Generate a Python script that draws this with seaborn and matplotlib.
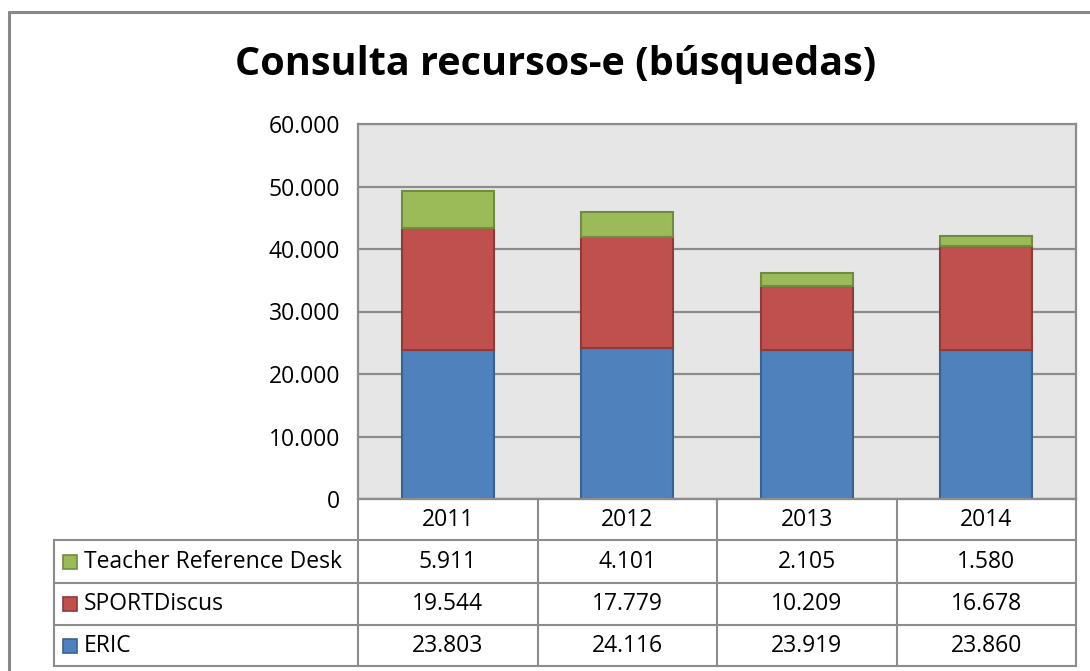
import matplotlib
matplotlib.use("Agg")
import matplotlib.pyplot as plt
import seaborn as sns
import pandas as pd
import numpy as np
from matplotlib.patches import Rectangle
from matplotlib.lines import Line2D
from matplotlib.ticker import FuncFormatter

years = ["2011", "2012", "2013", "2014"]
eric = [23803, 24116, 23919, 23860]
sport = [19544, 17779, 10209, 16678]
teacher = [5911, 4101, 2105, 1580]
series_names = ["Teacher Reference Desk", "SPORTDiscus", "ERIC"]
yticks = [0, 10000, 20000, 30000, 40000, 50000, 60000]

colors = {"ERIC": "#4F81BD", "SPORTDiscus": "#C0504D", "Teacher Reference Desk": "#9BBB59"}
edges = {"ERIC": "#3A6290", "SPORTDiscus": "#8E3A38", "Teacher Reference Desk": "#718C40"}

sns.set_theme(style="white")
plt.rcParams['font.family'] = ['Open Sans', 'DejaVu Sans']

W, H = 1090, 671
fig = plt.figure(figsize=(W / 100, H / 100), dpi=100)

def fx(px):
    return px / W

def fy(py):
    return 1 - py / H

L, R, T, B = 358, 1076, 124, 499
ax = fig.add_axes([fx(L), fy(B), fx(R) - fx(L), fy(T) - fy(B)])
ax.set_facecolor("#E6E6E6")

df = pd.DataFrame({"year": years, "ERIC": eric, "SPORTDiscus": sport,
                   "Teacher Reference Desk": teacher})
bottom1 = np.array(eric)
bottom2 = bottom1 + np.array(sport)
w = 0.51
sns.barplot(data=df, x="year", y="ERIC", order=years, color=colors["ERIC"],
            edgecolor=edges["ERIC"], linewidth=1.5, width=w, ax=ax, saturation=1)
sns.barplot(data=df, x="year", y="SPORTDiscus", order=years, color=colors["SPORTDiscus"],
            edgecolor=edges["SPORTDiscus"], linewidth=1.5, width=w, ax=ax, saturation=1,
            bottom=bottom1)
sns.barplot(data=df, x="year", y="Teacher Reference Desk", order=years,
            color=colors["Teacher Reference Desk"],
            edgecolor=edges["Teacher Reference Desk"], linewidth=1.5, width=w, ax=ax,
            saturation=1, bottom=bottom2)

fs = 16.5
ax.set_ylim(0, 60000)
ax.set_xlim(-0.5, 3.5)
ax.set_yticks(yticks)
ax.yaxis.set_major_formatter(FuncFormatter(lambda v, p: f"{int(v):,}".replace(",", ".")))
ax.tick_params(axis="y", labelsize=fs, colors="#000000", length=0, pad=13)
ax.set_xticks([])
ax.set_xlabel("")
ax.set_ylabel("")
ax.grid(axis="y", color="#8C8C8C", linewidth=1.6)
ax.set_axisbelow(True)
for s in ax.spines.values():
    s.set_color("#8C8C8C")
    s.set_linewidth(1.6)
for lab in ax.get_yticklabels():
    lab.set_color("black")

fig.text(fx(556), fy(64), "Consulta recursos-e (búsquedas)", ha="center", va="center",
         fontsize=28.5, fontweight="bold", color="black")

# outer chart border
fig.add_artist(Line2D([fx(9), fx(9)], [fy(12), fy(H + 5)], color="#888888", lw=2.2))
fig.add_artist(Line2D([fx(9), fx(W + 5)], [fy(12), fy(12)], color="#888888", lw=2.2))

# data table
lc = "#8C8C8C"
col_edges = [L + (R - L) * i / 4 for i in range(5)]
row_edges = [499, 540, 583, 625, 666]
TL = 54
fig.add_artist(Line2D([fx(L), fx(R)], [fy(row_edges[0])] * 2, color=lc, lw=1.5))
for ry in row_edges[1:]:
    fig.add_artist(Line2D([fx(TL), fx(R)], [fy(ry)] * 2, color=lc, lw=1.5))
for cx in col_edges:
    fig.add_artist(Line2D([fx(cx)] * 2, [fy(row_edges[0]), fy(row_edges[-1])], color=lc, lw=1.5))
fig.add_artist(Line2D([fx(TL)] * 2, [fy(row_edges[1]), fy(row_edges[-1])], color=lc, lw=1.5))

for i, yr in enumerate(years):
    cx = (col_edges[i] + col_edges[i + 1]) / 2
    fig.text(fx(cx), fy((row_edges[0] + row_edges[1]) / 2), yr, ha="center", va="center",
             fontsize=fs, color="black")

rows = [("Teacher Reference Desk", teacher), ("SPORTDiscus", sport), ("ERIC", eric)]
for r, (name, vals) in enumerate(rows):
    cy = (row_edges[r + 1] + row_edges[r + 2]) / 2
    fig.add_artist(Rectangle((fx(63), fy(cy + 7)), fx(14), fy(0) - fy(14),
                             facecolor=colors[name], edgecolor=edges[name], lw=1.2,
                             transform=fig.transFigure))
    fig.text(fx(84), fy(cy), name, ha="left", va="center", fontsize=fs, color="black")
    for i, v in enumerate(vals):
        cx = (col_edges[i] + col_edges[i + 1]) / 2
        fig.text(fx(cx), fy(cy), f"{v:,}".replace(",", "."), ha="center", va="center",
                 fontsize=fs, color="black")

fig.savefig("out.png", dpi=100, facecolor="white")
